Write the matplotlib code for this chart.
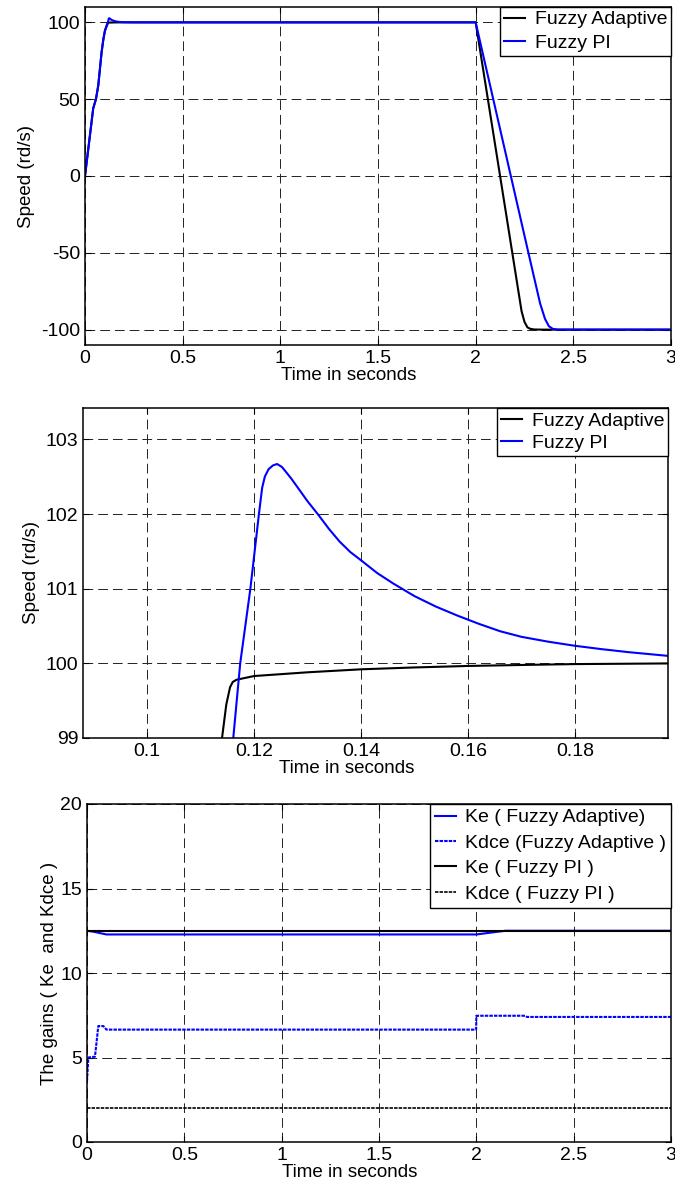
import matplotlib
matplotlib.use('Agg')
from matplotlib import pyplot as plt
from matplotlib.lines import Line2D

plt.rcParams['font.family'] = ['Liberation Sans', 'DejaVu Sans']
plt.rcParams['axes.unicode_minus'] = False
plt.rcParams['lines.scale_dashes'] = False

# speed response, fuzzy adaptive controller
t_adapt = [0, 0.042, 0.056, 0.068, 0.085, 0.094, 0.102, 0.108, 0.114, 0.1148, 0.1155,
           0.116, 0.1167, 0.118, 0.12, 0.13, 0.14, 0.15, 0.16, 0.17, 0.18, 0.19, 0.2, 0.25,
           2.0, 2.06, 2.19, 2.235, 2.25, 2.265, 2.28, 2.30, 2.34, 3.0]
v_adapt = [0, 44, 50, 59, 80.6, 89, 94.5, 97, 99.0, 99.45, 99.68,
           99.75, 99.78, 99.80, 99.83, 99.88, 99.92, 99.945, 99.965, 99.978, 99.99, 99.995, 100.0, 100,
           100, 52, -52, -88, -95, -98.5, -99.5, -99.9, -100, -100]

# speed response, fuzzy PI controller
t_pi = [0, 0.042, 0.056, 0.068, 0.085, 0.094, 0.102, 0.108, 0.1161, 0.1174, 0.1193,
        0.1209, 0.1215, 0.122, 0.1227, 0.1235, 0.1243, 0.1252, 0.126, 0.127, 0.128,
        0.13, 0.132, 0.134, 0.136, 0.138, 0.14, 0.143, 0.146, 0.15, 0.154, 0.158,
        0.162, 0.166, 0.17, 0.175, 0.18, 0.185, 0.19, 0.1974, 0.22, 0.26, 0.3,
        2.0, 2.09, 2.18, 2.27, 2.33, 2.355, 2.375, 2.395, 2.42, 3.0]
v_pi = [0, 44, 50, 59, 80.6, 89, 94.5, 96.5, 99.0, 100.0, 101.0,
        102.0, 102.35, 102.5, 102.6, 102.65, 102.67, 102.63, 102.56, 102.47, 102.37,
        102.17, 101.99, 101.8, 101.63, 101.49, 101.38, 101.21, 101.07, 100.90, 100.76, 100.64,
        100.53, 100.43, 100.355, 100.29, 100.235, 100.19, 100.15, 100.10, 100.05, 100.01, 100,
        100, 50, 0, -50, -83, -93, -97.8, -99.5, -100, -100]

# gains
t_ke_adapt = [0, 0.03, 0.1, 2.0, 2.15, 3.0]
ke_adapt = [12.5, 12.45, 12.28, 12.28, 12.5, 12.5]
t_kdce_adapt = [0, 0.007, 0.041, 0.058, 0.084, 0.1, 1.999, 2.0, 2.25, 2.26, 3.0]
kdce_adapt = [3.6, 5.0, 5.05, 6.86, 6.86, 6.65, 6.65, 7.47, 7.47, 7.4, 7.4]
t_pi_gain = [0, 3.0]
ke_pi = [12.5, 12.5]
kdce_pi = [2.0, 2.0]

x_ticks = [0, 0.5, 1, 1.5, 2, 2.5, 3]
x_tick_labels = ['0', '0.5', '1', '1.5', '2', '2.5', '3']
zoom_ticks = [0.1, 0.12, 0.14, 0.16, 0.18]

W, H = 675, 1187
fig = plt.figure(figsize=(W / 100, H / 100), dpi=100)


def make_axes(left, top, right, bottom):
    return fig.add_axes([left / W, 1 - bottom / H, (right - left) / W, (bottom - top) / H])


def style(ax):
    ax.grid(True, linestyle=(0, (7, 3.6)), color='#222222', linewidth=0.7)
    ax.tick_params(direction='in', top=True, right=True, labelsize=14, length=4)
    for s in ax.spines.values():
        s.set_linewidth(1.1)
    ax.set_xlabel('Time in seconds', fontsize=13.5, labelpad=0, x=0.45)


def legend(ax, **kw):
    leg = ax.legend(loc='upper right', bbox_to_anchor=(1, 1), borderaxespad=0, fontsize=14,
                    fancybox=False, framealpha=1, edgecolor='black', handlelength=1.1,
                    handletextpad=0.5, borderpad=0.2, **kw)
    leg.get_frame().set_linewidth(1.0)
    return leg


# panel 1: full speed response
ax1 = make_axes(85, 7, 671, 345)
ax1.plot(t_adapt, v_adapt, color='black', lw=1.5, label='Fuzzy Adaptive')
ax1.plot(t_pi, v_pi, color='#0000ff', lw=1.5, label='Fuzzy PI')
ax1.set_xlim(0, 3)
ax1.set_ylim(-110, 110)
ax1.set_xticks(x_ticks)
ax1.set_xticklabels(x_tick_labels)
ax1.set_yticks([-100, -50, 0, 50, 100])
ax1.set_ylabel('Speed (rd/s)', fontsize=13.5)
style(ax1)
legend(ax1, labelspacing=0.3)

# panel 2: zoom on the overshoot
ax2 = make_axes(83, 408, 668, 738)
ax2.plot(t_adapt, v_adapt, color='black', lw=1.5, label='Fuzzy Adaptive')
ax2.plot(t_pi, v_pi, color='#0000ff', lw=1.5, label='Fuzzy PI')
ax2.set_xlim(0.088, 0.1974)
ax2.set_ylim(99, 103.42)
ax2.set_xticks(zoom_ticks)
ax2.set_xticklabels(['0.1', '0.12', '0.14', '0.16', '0.18'])
ax2.set_yticks([99, 100, 101, 102, 103])
ax2.set_ylabel('Speed (rd/s)', fontsize=13.5)
style(ax2)
legend(ax2, labelspacing=0.25)

# panel 3: gains
ax3 = make_axes(87, 804, 671, 1142)
ax3.plot(t_ke_adapt, ke_adapt, color='#0000ff', lw=1.5)
ax3.plot(t_kdce_adapt, kdce_adapt, color='#0000ff', lw=1.5, linestyle=(0, (2.5, 0.8)))
ax3.plot(t_pi_gain, ke_pi, color='black', lw=1.5)
ax3.plot(t_pi_gain, kdce_pi, color='black', lw=1.2, linestyle=(0, (2.5, 0.8)))
ax3.set_xlim(0, 3)
ax3.set_ylim(0, 20)
ax3.set_xticks(x_ticks)
ax3.set_xticklabels(x_tick_labels)
ax3.set_yticks([0, 5, 10, 15, 20])
ax3.set_ylabel('The gains ( Ke  and Kdce )', fontsize=13.5, labelpad=2)
style(ax3)
handles = [Line2D([], [], color='#0000ff', lw=1.5),
           Line2D([], [], color='#0000ff', lw=1.5, linestyle=(0, (2.5, 0.8))),
           Line2D([], [], color='black', lw=1.5),
           Line2D([], [], color='black', lw=1.2, linestyle=(0, (2.5, 0.8)))]
labels = ['Ke ( Fuzzy Adaptive)', 'Kdce (Fuzzy Adaptive )', 'Ke ( Fuzzy PI )', 'Kdce ( Fuzzy PI )']
ax3.legend(handles, labels, loc='upper right', bbox_to_anchor=(1, 1), borderaxespad=0,
           fontsize=14, fancybox=False, framealpha=1, edgecolor='black', handlelength=1.1,
           handletextpad=0.45, borderpad=0.25, labelspacing=0.4).get_frame().set_linewidth(1.0)

fig.savefig('out.png', dpi=100)
